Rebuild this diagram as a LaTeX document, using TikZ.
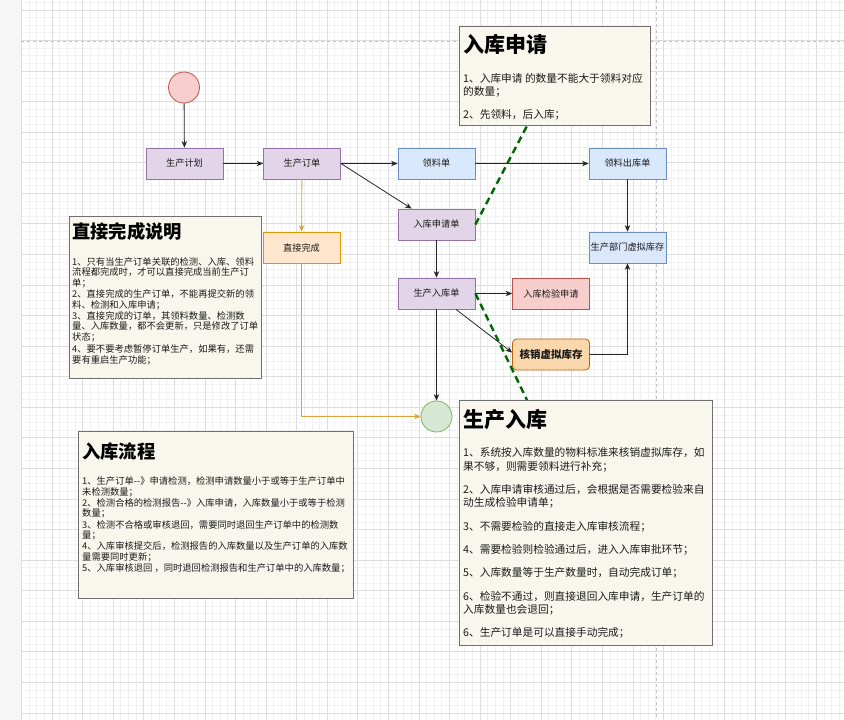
\documentclass[tikz,border=0pt]{standalone}
\usepackage{fontspec}
\setmainfont{Noto Sans CJK SC}
\usetikzlibrary{arrows.meta}

\definecolor{stripgray}{HTML}{F6F6F6}
\definecolor{gridminor}{HTML}{F1F1F1}
\definecolor{gridmajor}{HTML}{DEDEDE}
\definecolor{pagebreak}{HTML}{C4C4C4}
\definecolor{purfill}{HTML}{E1D5E7}
\definecolor{purdraw}{HTML}{9673A6}
\definecolor{bluefill}{HTML}{DAE8FC}
\definecolor{bluedraw}{HTML}{6C8EBF}
\definecolor{redfill}{HTML}{F8CECC}
\definecolor{reddraw}{HTML}{B85450}
\definecolor{orfill}{HTML}{FFE6CC}
\definecolor{ordraw}{HTML}{D79B00}
\definecolor{deepfill}{HTML}{FAD7AC}
\definecolor{deepdraw}{HTML}{B46504}
\definecolor{grnfill}{HTML}{D5E8D4}
\definecolor{grndraw}{HTML}{82B366}
\definecolor{orline}{HTML}{DBA43F}
\definecolor{gdash}{HTML}{006600}
\definecolor{notefill}{HTML}{F9F7ED}
\definecolor{notedraw}{HTML}{707070}
\definecolor{txt}{HTML}{1A1A1A}

\begin{document}
\begin{tikzpicture}[x=1pt,y=-1pt,
  box/.style={minimum width=77pt, minimum height=31pt, inner sep=0pt,
    line width=0.8pt, text=txt, font=\fontsize{9.2}{11}\selectfont},
  purplebox/.style={box, fill=purfill, draw=purdraw},
  bluebox/.style={box, fill=bluefill, draw=bluedraw},
  redbox/.style={box, fill=redfill, draw=reddraw},
  orangebox/.style={box, fill=orfill, draw=ordraw},
  deepbox/.style={box, fill=deepfill, draw=deepdraw, rounded corners=4pt,
    font=\fontsize{10.5}{12}\bfseries\selectfont},
  dot/.style={circle, minimum size=31pt, inner sep=0pt, line width=0.8pt},
  arr/.style={draw=black!85, line width=0.8pt, -{Stealth[length=6.5pt,width=5.5pt]}},
  oarr/.style={draw=orline, line width=0.8pt, -{Stealth[length=6.5pt,width=5.5pt]}},
  greendash/.style={draw=gdash, line width=2.4pt, dash pattern=on 7pt off 4.5pt},
  note/.style={draw=notedraw, fill=notefill, line width=0.9pt, inner sep=0pt, anchor=north west},
  bigtitle/.style={anchor=west, inner sep=0pt, text=black, font=\fontsize{21}{24}\bfseries\selectfont},
  midtitle/.style={anchor=west, inner sep=0pt, text=black, font=\fontsize{18.3}{21}\bfseries\selectfont},
  rbody/.style={anchor=west, inner sep=0pt, text=txt, font=\fontsize{10.7}{13}\selectfont},
  lbody/.style={anchor=west, inner sep=0pt, text=txt, font=\fontsize{9.3}{11}\selectfont},
  gminor/.style={draw=gridminor, line width=0.6pt},
  gmajor/.style={draw=gridmajor, line width=0.6pt},
  pbreak/.style={draw=pagebreak, line width=0.7pt, dash pattern=on 3pt off 3pt}
]
\useasboundingbox (0,0) rectangle (844,720);

% canvas and grid
\fill[stripgray] (0,0) rectangle (21.4,720);
\fill[white] (21.4,0) rectangle (844,720);
\foreach \k in {0,...,108} \draw[gminor] ({21.4+\k*7.6425},0) -- ({21.4+\k*7.6425},720);
\foreach \k in {-1,...,93} \draw[gminor] (21.4,{9.8+\k*7.6425}) -- (844,{9.8+\k*7.6425});
\foreach \k in {0,...,27} \draw[gmajor] ({21.4+\k*30.57},0) -- ({21.4+\k*30.57},720);
\foreach \k in {0,...,23} \draw[gmajor] (21.4,{9.8+\k*30.57}) -- (844,{9.8+\k*30.57});
\draw[pbreak] (21.4,41) -- (844,41);
\draw[pbreak] (656,0) -- (656,720);

% notes
\node[note, minimum width=191pt, minimum height=99pt] (topnote) at (459,26) {};
\node[note, minimum width=192pt, minimum height=162pt] (leftnote) at (69,216) {};
\node[note, minimum width=275pt, minimum height=167pt] (flownote) at (78,431) {};
\node[note, minimum width=253pt, minimum height=245pt] (prodnote) at (459,400) {};

\node[bigtitle] (toptitle) at (463,44) {入库申请};
\foreach \t/\yy [count=\i] in {1、入库申请 的数量不能大于领料对应/78, 的数量；/92, 2、先领料，后入库；/115}
  \node[rbody] (topline\i) at (463,\yy) {\t};

\node[midtitle] (lefttitle) at (72,232) {直接完成说明};
\foreach \t/\yy [count=\i] in {
  1、只有当生产订单关联的检测、入库、领料/262,
  流程都完成时，才可以直接完成当前生产订/272.5,
  单；/283,
  2、直接完成的生产订单，不能再提交新的领/294.5,
  料、检测和入库申请；/305,
  3、直接完成的订单，其领料数量、检测数/316,
  量、入库数量，都不会更新，只是修改了订单/326.5,
  状态；/337.5,
  4、要不要考虑暂停订单生产，如果有，还需/349,
  要有重启生产功能；/360}
  \node[lbody] (leftline\i) at (72,\yy) {\t};

\node[midtitle] (flowtitle) at (82,452) {入库流程};
\foreach \t/\yy [count=\i] in {
  1、生产订单-{}-》申请检测，检测申请数量小于或等于生产订单中/481,
  未检测数量；/491.9,
  2、检测合格的检测报告-{}-》入库申请，入库数量小于或等于检测/502.8,
  数量；/513.7,
  3、检测不合格或审核退回，需要同时退回生产订单中的检测数/524.6,
  量；/535.5,
  4、入库审核提交后，检测报告的入库数量以及生产订单的入库数/546.4,
  量需要同时更新；/557.3,
  5、入库审核退回 ，同时退回检测报告和生产订单中的入库数量；/568.2}
  \node[lbody] (flowline\i) at (82,\yy) {\t};

\node[bigtitle] (prodtitle) at (463,420) {生产入库};
\foreach \t/\yy [count=\i] in {
  1、系统按入库数量的物料标准来核销虚拟库存，如/453,
  果不够，则需要领料进行补充；/466.5,
  2、入库申请审核通过后，会根据是否需要检验来自/490,
  动生成检验申请单；/503,
  3、不需要检验的直接走入库审核流程；/527,
  4、需要检验则检验通过后，进入入库审批环节；/550,
  5、入库数量等于生产数量时，自动完成订单；/573,
  6、检验不通过，则直接退回入库申请，生产订单的/597,
  入库数量也会退回；/609.5,
  6、生产订单是可以直接手动完成；/633}
  \node[rbody] (prodline\i) at (463,\yy) {\t};

% process nodes
\node[dot, fill=redfill, draw=reddraw] (start) at (184,87.5) {};
\node[purplebox] (plan) at (184.5,163.5) {生产计划};
\node[purplebox] (order) at (302,163.5) {生产订单};
\node[bluebox] (pick) at (436.5,163.5) {领料单};
\node[bluebox] (pickout) at (627.5,163.5) {领料出库单};
\node[purplebox] (inreq) at (436.5,224.5) {入库申请单};
\node[bluebox] (vstock) at (627.5,247.5) {生产部门虚拟库存};
\node[orangebox] (direct) at (301.5,247.5) {直接完成};
\node[purplebox] (prodin) at (436.5,293.5) {生产入库单};
\node[redbox] (inspect) at (551,293.5) {入库检验申请};
\node[deepbox] (writeoff) at (551,354.5) {核销虚拟库存};
\node[dot, fill=grnfill, draw=grndraw] (finish) at (436.5,416.5) {};

% connectors
\draw[arr] (start) -- (plan);
\draw[arr] (plan) -- (order);
\draw[arr] (order) -- (pick);
\draw[arr] (pick) -- (pickout);
\draw[arr] (order.east) -- ([xshift=14pt]inreq.north west);
\draw[arr] (inreq) -- (prodin);
\draw[arr] (pickout) -- (vstock);
\draw[arr] (prodin) -- (inspect);
\draw[arr] ([xshift=19.5pt]prodin.south) -- ([yshift=2pt]writeoff.west);
\draw[arr] (writeoff.east) -| (vstock.south);
\draw[arr] (prodin) -- (finish);
\draw[oarr] (order) -- (direct);
\draw[oarr] (direct.south) |- (finish.west);

% note links
\draw[greendash] (inreq.east) -- ([xshift=68pt]topnote.south west);
\draw[greendash] (prodin.east) -- ([xshift=68pt]prodnote.north west);
\end{tikzpicture}
\end{document}
